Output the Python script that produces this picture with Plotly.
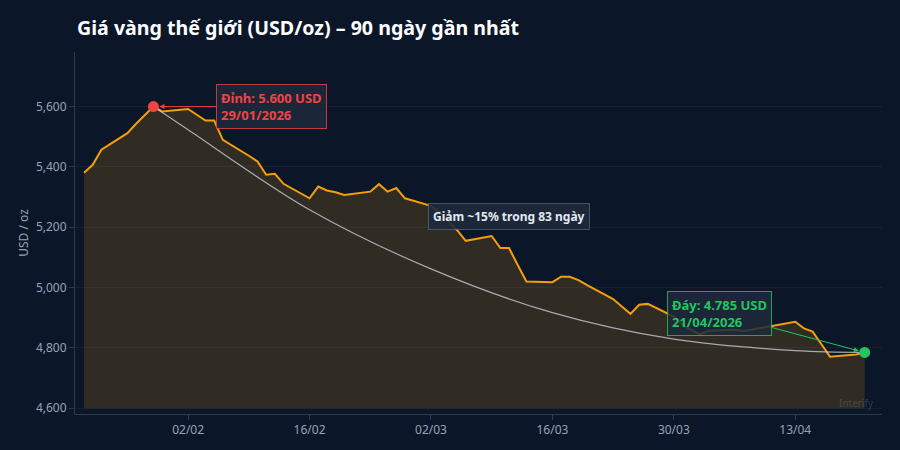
import plotly.graph_objects as go

# gold price, business days (USD/oz)
dates = [
    "2026-01-21", "2026-01-22", "2026-01-23", "2026-01-26", "2026-01-27", "2026-01-28",
    "2026-01-29", "2026-01-30", "2026-02-02", "2026-02-03", "2026-02-04", "2026-02-05",
    "2026-02-06", "2026-02-09", "2026-02-10", "2026-02-11", "2026-02-12", "2026-02-13",
    "2026-02-16", "2026-02-17", "2026-02-18", "2026-02-19", "2026-02-20", "2026-02-23",
    "2026-02-24", "2026-02-25", "2026-02-26", "2026-02-27", "2026-03-02", "2026-03-03",
    "2026-03-04", "2026-03-05", "2026-03-06", "2026-03-09", "2026-03-10", "2026-03-11",
    "2026-03-12", "2026-03-13", "2026-03-16", "2026-03-17", "2026-03-18", "2026-03-19",
    "2026-03-20", "2026-03-23", "2026-03-24", "2026-03-25", "2026-03-26", "2026-03-27",
    "2026-03-30", "2026-03-31", "2026-04-01", "2026-04-02", "2026-04-03", "2026-04-06",
    "2026-04-07", "2026-04-08", "2026-04-09", "2026-04-10", "2026-04-13", "2026-04-14",
    "2026-04-15", "2026-04-16", "2026-04-17", "2026-04-20", "2026-04-21",
]
prices = [
    5381, 5407, 5457, 5512, 5543, 5573,
    5600, 5584, 5592, 5573, 5554, 5554,
    5490, 5437, 5418, 5374, 5377, 5344,
    5296, 5335, 5322, 5316, 5307, 5318,
    5343, 5318, 5330, 5296, 5271, 5250,
    5222, 5191, 5155, 5171, 5131, 5131,
    5075, 5020, 5018, 5036, 5036, 5025,
    5008, 4962, 4937, 4913, 4943, 4946,
    4904, 4876, 4860, 4845, 4857, 4860,
    4856, 4862, 4866, 4871, 4887, 4865,
    4854, 4813, 4771, 4778, 4785,
]

# smooth decline curve from peak to bottom
trend_dates = ["2026-01-29", "2026-02-02", "2026-02-16", "2026-03-02",
               "2026-03-16", "2026-03-30", "2026-04-13", "2026-04-21"]
trend_values = [5600, 5523, 5258, 5062, 4917, 4829, 4791, 4785]

peak_date, peak_value = "2026-01-29", 5600
low_date, low_value = "2026-04-21", 4785
fill_base = 4600

BG = "#0b1729"
GOLD = "#f59e0b"
RED = "#ef4444"
GREEN = "#22c55e"
MUTED = "#94a3b8"
FONT = "Noto Sans"

fig = go.Figure()

fig.add_trace(go.Scatter(
    x=dates, y=[fill_base] * len(dates),
    mode="lines", line=dict(width=0), hoverinfo="skip", showlegend=False))

fig.add_trace(go.Scatter(
    x=dates, y=prices, mode="lines",
    line=dict(color=GOLD, width=2),
    fill="tonexty", fillcolor="rgba(245,158,11,0.16)",
    showlegend=False))

fig.add_trace(go.Scatter(
    x=trend_dates, y=trend_values, mode="lines",
    line=dict(color="rgba(203,213,225,0.75)", width=1.2, shape="spline"),
    showlegend=False))

fig.add_trace(go.Scatter(
    x=[peak_date], y=[peak_value], mode="markers",
    marker=dict(color=RED, size=11), showlegend=False))
fig.add_trace(go.Scatter(
    x=[low_date], y=[low_value], mode="markers",
    marker=dict(color=GREEN, size=11), showlegend=False))

fig.add_annotation(
    x=peak_date, y=peak_value, ax=118, ay=0,
    text="<b>Đỉnh: 5.600 USD<br>29/01/2026</b>", align="left",
    font=dict(color=RED, size=13, family=FONT),
    showarrow=True, arrowhead=2, arrowsize=1, arrowwidth=1, arrowcolor=RED,
    standoff=6, bgcolor="rgba(30,41,59,0.85)",
    bordercolor="rgba(239,68,68,0.8)", borderwidth=1, borderpad=4)

fig.add_annotation(
    x=low_date, y=low_value, ax=-145, ay=-39,
    text="<b>Đáy: 4.785 USD<br>21/04/2026</b>", align="left",
    font=dict(color=GREEN, size=13, family=FONT),
    showarrow=True, arrowhead=2, arrowsize=1, arrowwidth=1, arrowcolor=GREEN,
    standoff=6, bgcolor="rgba(30,41,59,0.85)",
    bordercolor="rgba(34,197,94,0.8)", borderwidth=1, borderpad=4)

fig.add_annotation(
    x="2026-03-11", y=5235, showarrow=False,
    text="<b>Giảm ~15% trong 83 ngày</b>",
    font=dict(color="#e2e8f0", size=12, family=FONT),
    bgcolor="rgba(30,41,59,0.9)", bordercolor="rgba(100,116,139,0.6)",
    borderwidth=1, borderpad=4)

fig.add_annotation(
    x=1, y=0, xref="paper", yref="paper", xanchor="right", yanchor="bottom",
    text="Interify", showarrow=False, xshift=-6, yshift=2,
    font=dict(color="rgba(148,163,184,0.25)", size=10, family=FONT))

fig.update_layout(
    width=900, height=450,
    paper_bgcolor=BG, plot_bgcolor=BG,
    margin=dict(l=75, r=18, t=52, b=36),
    font=dict(family=FONT, color=MUTED, size=12),
    title=dict(
        text="<b>Giá vàng thế giới (USD/oz) – 90 ngày gần nhất</b>",
        x=0, xref="paper", xanchor="left", pad=dict(l=2),
        y=1 - 28 / 450, yref="container", yanchor="middle",
        font=dict(size=19.6, color="#ffffff", family=FONT)),
    xaxis=dict(
        type="date", range=["2026-01-19 23:00", "2026-04-23"],
        tick0="2026-02-02", dtick=14 * 86400000, tickformat="%d/%m",
        showgrid=False, showline=True, linecolor="#2b3a52", linewidth=1,
        ticks="outside", ticklen=5, tickcolor="#2b3a52",
        tickfont=dict(color=MUTED, size=12)),
    yaxis=dict(
        range=[4581, 5781], dtick=200, tickformat=",",
        title=dict(text="USD / oz", font=dict(color=MUTED, size=12), standoff=4),
        showgrid=True, gridcolor="rgba(148,163,184,0.08)", zeroline=False,
        showline=True, linecolor="#2b3a52", linewidth=1,
        ticks="outside", ticklen=5, tickcolor="#2b3a52",
        tickfont=dict(color=MUTED, size=12)),
)

# page without the default body margin, so the figure fills the window
fig.write_html(
    "out.html",
    config={"displayModeBar": False},
    post_script="document.body.style.margin='0';document.body.style.background='#0b1729';")
